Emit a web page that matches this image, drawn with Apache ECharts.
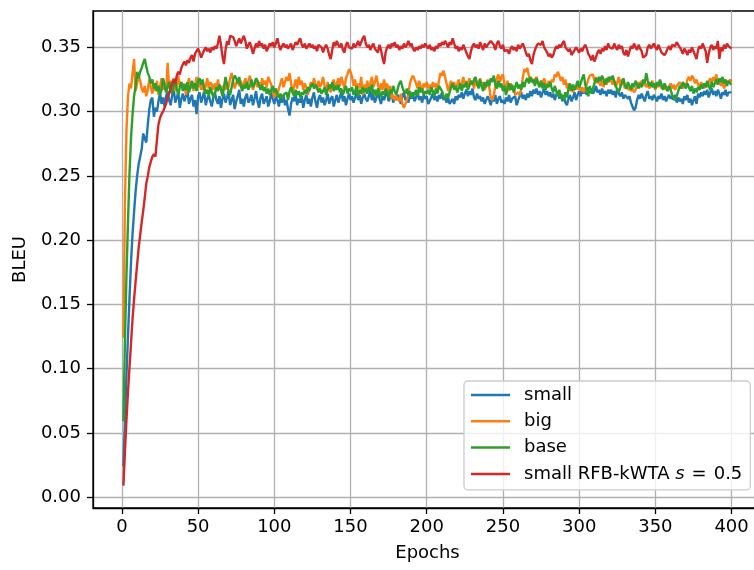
<!DOCTYPE html>
<html>
<head>
<meta charset="utf-8">
<script src="https://cdn.jsdelivr.net/npm/echarts@6/dist/echarts.min.js"></script>
<style>
  html, body { margin: 0; padding: 0; background: #fff; }
  #chart { width: 754px; height: 570px; }
</style>
</head>
<body>
<div id="chart"></div>
<script>
// tick labels
const xTicks = [0, 50, 100, 150, 200, 250, 300, 350, 400];
const yTicks = [0, 0.05, 0.1, 0.15, 0.2, 0.25, 0.3, 0.35];

const seriesNames = ['small', 'big', 'base', 'small RFB-kWTA s = 0.5'];

// BLEU per epoch (epochs 1..400)
const small = [
  0.024, 0.060, 0.095, 0.125, 0.155, 0.183, 0.205, 0.222, 0.238, 0.250, 0.259, 0.260, 0.271, 0.283, 0.279, 0.276, 0.290, 0.302, 0.309, 0.311,
  0.296, 0.303, 0.300, 0.308, 0.315, 0.306, 0.311, 0.304, 0.312, 0.316, 0.309, 0.305, 0.313, 0.318, 0.307, 0.311, 0.315, 0.303, 0.310, 0.314,
  0.308, 0.312, 0.317, 0.306, 0.310, 0.313, 0.304, 0.309, 0.298, 0.312, 0.315, 0.307, 0.311, 0.316, 0.305, 0.310, 0.313, 0.308, 0.304, 0.311,
  0.315, 0.309, 0.306, 0.312, 0.303, 0.310, 0.314, 0.307, 0.311, 0.316, 0.305, 0.309, 0.313, 0.302, 0.308, 0.312, 0.317, 0.306, 0.310, 0.304,
  0.311, 0.314, 0.307, 0.309, 0.313, 0.305, 0.310, 0.316, 0.308, 0.303, 0.311, 0.314, 0.306, 0.309, 0.312, 0.304, 0.308, 0.315, 0.310, 0.306,
  0.312, 0.309, 0.304, 0.311, 0.307, 0.313, 0.305, 0.309, 0.302, 0.297, 0.306, 0.311, 0.308, 0.314, 0.305, 0.310, 0.307, 0.312, 0.303, 0.309,
  0.313, 0.306, 0.310, 0.304, 0.311, 0.315, 0.308, 0.303, 0.310, 0.313, 0.307, 0.311, 0.305, 0.309, 0.314, 0.306, 0.310, 0.312, 0.304, 0.309,
  0.313, 0.307, 0.311, 0.316, 0.308, 0.312, 0.305, 0.310, 0.314, 0.309, 0.312, 0.307, 0.311, 0.315, 0.309, 0.313, 0.306, 0.311, 0.314, 0.310,
  0.308, 0.312, 0.316, 0.309, 0.313, 0.307, 0.311, 0.314, 0.310, 0.306, 0.312, 0.309, 0.313, 0.316, 0.308, 0.311, 0.314, 0.307, 0.312, 0.309,
  0.313, 0.310, 0.306, 0.312, 0.315, 0.309, 0.311, 0.307, 0.313, 0.310, 0.314, 0.308, 0.311, 0.316, 0.309, 0.312, 0.307, 0.313, 0.310, 0.312,
  0.306, 0.305, 0.311, 0.314, 0.309, 0.312, 0.308, 0.313, 0.310, 0.315, 0.309, 0.312, 0.307, 0.311, 0.306, 0.307, 0.310, 0.306, 0.312, 0.309,
  0.313, 0.311, 0.315, 0.310, 0.314, 0.317, 0.312, 0.316, 0.313, 0.318, 0.311, 0.309, 0.314, 0.310, 0.312, 0.308, 0.311, 0.306, 0.309, 0.312,
  0.309, 0.305, 0.311, 0.308, 0.313, 0.306, 0.310, 0.312, 0.307, 0.309, 0.306, 0.311, 0.308, 0.313, 0.307, 0.310, 0.309, 0.312, 0.305, 0.309,
  0.312, 0.315, 0.310, 0.313, 0.309, 0.314, 0.311, 0.316, 0.312, 0.317, 0.314, 0.318, 0.313, 0.316, 0.311, 0.315, 0.318, 0.313, 0.316, 0.312,
  0.315, 0.311, 0.314, 0.309, 0.313, 0.316, 0.310, 0.314, 0.308, 0.312, 0.307, 0.305, 0.310, 0.313, 0.308, 0.311, 0.315, 0.309, 0.313, 0.316,
  0.312, 0.318, 0.314, 0.317, 0.313, 0.319, 0.315, 0.318, 0.314, 0.316, 0.320, 0.315, 0.317, 0.313, 0.318, 0.314, 0.316, 0.312, 0.317, 0.314,
  0.317, 0.313, 0.316, 0.311, 0.318, 0.314, 0.312, 0.315, 0.310, 0.313, 0.313, 0.310, 0.312, 0.307, 0.304, 0.301, 0.303, 0.309, 0.313, 0.310,
  0.314, 0.311, 0.308, 0.313, 0.316, 0.310, 0.312, 0.309, 0.313, 0.311, 0.308, 0.312, 0.310, 0.314, 0.309, 0.312, 0.308, 0.311, 0.313, 0.310,
  0.312, 0.309, 0.313, 0.307, 0.311, 0.308, 0.310, 0.306, 0.312, 0.309, 0.313, 0.307, 0.310, 0.305, 0.309, 0.312, 0.306, 0.314, 0.311, 0.315,
  0.312, 0.316, 0.313, 0.317, 0.311, 0.315, 0.318, 0.313, 0.316, 0.312, 0.317, 0.314, 0.310, 0.315, 0.313, 0.317, 0.312, 0.315, 0.314, 0.315
];

const big = [
  0.124, 0.230, 0.285, 0.312, 0.322, 0.318, 0.330, 0.341, 0.316, 0.322, 0.328, 0.324, 0.318, 0.315, 0.320, 0.312, 0.317, 0.325, 0.319, 0.314,
  0.321, 0.316, 0.324, 0.313, 0.319, 0.326, 0.317, 0.322, 0.315, 0.338, 0.318, 0.324, 0.319, 0.326, 0.316, 0.321, 0.328, 0.319, 0.323, 0.317,
  0.322, 0.313, 0.320, 0.326, 0.318, 0.323, 0.316, 0.321, 0.327, 0.319, 0.324, 0.317, 0.322, 0.315, 0.320, 0.326, 0.318, 0.323, 0.321, 0.317,
  0.322, 0.316, 0.325, 0.318, 0.320, 0.314, 0.321, 0.317, 0.323, 0.319, 0.326, 0.330, 0.329, 0.318, 0.322, 0.325, 0.320, 0.324, 0.318, 0.322,
  0.326, 0.320, 0.324, 0.328, 0.322, 0.317, 0.321, 0.325, 0.319, 0.323, 0.318, 0.326, 0.321, 0.324, 0.319, 0.327, 0.328, 0.321, 0.315, 0.311,
  0.316, 0.313, 0.318, 0.322, 0.326, 0.319, 0.323, 0.327, 0.324, 0.330, 0.322, 0.314, 0.320, 0.325, 0.318, 0.327, 0.321, 0.324, 0.317, 0.322,
  0.319, 0.313, 0.318, 0.323, 0.320, 0.326, 0.321, 0.317, 0.324, 0.319, 0.322, 0.327, 0.320, 0.316, 0.323, 0.318, 0.315, 0.321, 0.325, 0.317,
  0.322, 0.326, 0.320, 0.327, 0.323, 0.318, 0.326, 0.329, 0.333, 0.331, 0.327, 0.320, 0.325, 0.316, 0.322, 0.318, 0.327, 0.313, 0.321, 0.317,
  0.324, 0.318, 0.322, 0.327, 0.319, 0.323, 0.328, 0.321, 0.316, 0.322, 0.317, 0.325, 0.318, 0.322, 0.315, 0.320, 0.310, 0.313, 0.309, 0.312,
  0.311, 0.308, 0.314, 0.306, 0.303, 0.302, 0.309, 0.315, 0.322, 0.326, 0.328, 0.327, 0.322, 0.318, 0.324, 0.320, 0.316, 0.322, 0.319, 0.323,
  0.318, 0.321, 0.317, 0.323, 0.319, 0.322, 0.316, 0.324, 0.330, 0.328, 0.332, 0.327, 0.322, 0.316, 0.320, 0.324, 0.319, 0.323, 0.317, 0.321,
  0.325, 0.318, 0.322, 0.327, 0.320, 0.324, 0.319, 0.326, 0.321, 0.323, 0.318, 0.325, 0.320, 0.322, 0.326, 0.319, 0.323, 0.317, 0.321, 0.325,
  0.319, 0.311, 0.309, 0.313, 0.320, 0.326, 0.329, 0.323, 0.327, 0.329, 0.321, 0.318, 0.324, 0.316, 0.322, 0.317, 0.320, 0.313, 0.312, 0.315,
  0.313, 0.318, 0.326, 0.333, 0.331, 0.334, 0.328, 0.324, 0.326, 0.322, 0.325, 0.327, 0.323, 0.320, 0.324, 0.321, 0.326, 0.322, 0.319, 0.324,
  0.320, 0.325, 0.323, 0.329, 0.327, 0.331, 0.328, 0.324, 0.327, 0.321, 0.325, 0.318, 0.322, 0.316, 0.319, 0.315, 0.318, 0.320, 0.317, 0.322,
  0.316, 0.319, 0.315, 0.318, 0.321, 0.325, 0.328, 0.327, 0.329, 0.324, 0.327, 0.322, 0.326, 0.320, 0.324, 0.319, 0.325, 0.321, 0.327, 0.323,
  0.326, 0.321, 0.324, 0.319, 0.323, 0.327, 0.320, 0.325, 0.322, 0.318, 0.321, 0.317, 0.319, 0.316, 0.318, 0.315, 0.317, 0.320, 0.323, 0.321,
  0.324, 0.320, 0.323, 0.319, 0.322, 0.318, 0.321, 0.324, 0.320, 0.317, 0.322, 0.319, 0.323, 0.318, 0.321, 0.317, 0.320, 0.316, 0.319, 0.322,
  0.318, 0.321, 0.317, 0.320, 0.319, 0.323, 0.320, 0.318, 0.322, 0.319, 0.325, 0.327, 0.324, 0.328, 0.326, 0.322, 0.325, 0.321, 0.319, 0.323,
  0.320, 0.318, 0.322, 0.319, 0.323, 0.326, 0.322, 0.327, 0.324, 0.329, 0.321, 0.325, 0.320, 0.323, 0.318, 0.321, 0.324, 0.322, 0.325, 0.323
];

const base = [
  0.059, 0.122, 0.172, 0.214, 0.252, 0.280, 0.298, 0.312, 0.320, 0.331, 0.326, 0.331, 0.334, 0.338, 0.341, 0.335, 0.330, 0.327, 0.322, 0.325,
  0.318, 0.322, 0.316, 0.320, 0.313, 0.317, 0.326, 0.321, 0.315, 0.319, 0.323, 0.317, 0.314, 0.320, 0.325, 0.318, 0.313, 0.319, 0.323, 0.316,
  0.321, 0.317, 0.323, 0.315, 0.319, 0.324, 0.318, 0.322, 0.316, 0.324, 0.326, 0.321, 0.325, 0.318, 0.314, 0.317, 0.312, 0.319, 0.315, 0.311,
  0.314, 0.319, 0.316, 0.321, 0.317, 0.312, 0.319, 0.327, 0.321, 0.316, 0.313, 0.319, 0.325, 0.328, 0.326, 0.322, 0.327, 0.320, 0.316, 0.321,
  0.318, 0.323, 0.317, 0.320, 0.325, 0.319, 0.322, 0.326, 0.324, 0.320, 0.317, 0.321, 0.316, 0.319, 0.314, 0.318, 0.313, 0.317, 0.320, 0.315,
  0.318, 0.313, 0.311, 0.314, 0.310, 0.313, 0.312, 0.315, 0.309, 0.316, 0.319, 0.315, 0.312, 0.317, 0.313, 0.316, 0.311, 0.315, 0.313, 0.317,
  0.314, 0.319, 0.316, 0.320, 0.322, 0.318, 0.321, 0.319, 0.315, 0.318, 0.314, 0.316, 0.319, 0.313, 0.317, 0.321, 0.318, 0.323, 0.316, 0.320,
  0.317, 0.321, 0.315, 0.318, 0.313, 0.317, 0.320, 0.314, 0.318, 0.316, 0.319, 0.313, 0.316, 0.320, 0.312, 0.317, 0.314, 0.319, 0.315, 0.318,
  0.314, 0.319, 0.316, 0.321, 0.313, 0.317, 0.312, 0.318, 0.315, 0.311, 0.316, 0.313, 0.318, 0.315, 0.311, 0.317, 0.314, 0.320, 0.316, 0.313,
  0.318, 0.322, 0.324, 0.319, 0.316, 0.314, 0.318, 0.313, 0.316, 0.311, 0.315, 0.313, 0.317, 0.312, 0.319, 0.315, 0.318, 0.313, 0.316, 0.314,
  0.317, 0.313, 0.319, 0.316, 0.312, 0.318, 0.314, 0.320, 0.321, 0.316, 0.312, 0.310, 0.314, 0.311, 0.315, 0.319, 0.322, 0.317, 0.320, 0.315,
  0.318, 0.322, 0.316, 0.321, 0.319, 0.323, 0.317, 0.320, 0.324, 0.321, 0.325, 0.327, 0.322, 0.318, 0.325, 0.320, 0.316, 0.323, 0.319, 0.324,
  0.320, 0.326, 0.323, 0.328, 0.321, 0.318, 0.324, 0.319, 0.322, 0.316, 0.320, 0.313, 0.318, 0.322, 0.317, 0.321, 0.315, 0.319, 0.323, 0.318,
  0.321, 0.317, 0.323, 0.319, 0.324, 0.326, 0.322, 0.327, 0.323, 0.325, 0.320, 0.326, 0.322, 0.319, 0.324, 0.318, 0.322, 0.317, 0.321, 0.319,
  0.323, 0.318, 0.315, 0.320, 0.316, 0.312, 0.317, 0.310, 0.313, 0.309, 0.315, 0.311, 0.318, 0.322, 0.316, 0.321, 0.317, 0.320, 0.324, 0.319,
  0.322, 0.326, 0.329, 0.321, 0.317, 0.312, 0.320, 0.314, 0.318, 0.322, 0.326, 0.323, 0.327, 0.324, 0.328, 0.325, 0.321, 0.326, 0.323, 0.327,
  0.325, 0.328, 0.324, 0.320, 0.317, 0.315, 0.319, 0.322, 0.326, 0.321, 0.318, 0.323, 0.320, 0.317, 0.322, 0.319, 0.324, 0.321, 0.318, 0.322,
  0.319, 0.325, 0.322, 0.330, 0.324, 0.320, 0.323, 0.319, 0.322, 0.318, 0.323, 0.320, 0.325, 0.321, 0.317, 0.322, 0.319, 0.316, 0.320, 0.317,
  0.313, 0.311, 0.309, 0.312, 0.316, 0.320, 0.318, 0.323, 0.321, 0.318, 0.322, 0.319, 0.316, 0.320, 0.314, 0.318, 0.315, 0.319, 0.317, 0.321,
  0.318, 0.322, 0.319, 0.324, 0.320, 0.317, 0.323, 0.319, 0.322, 0.325, 0.321, 0.326, 0.323, 0.327, 0.322, 0.325, 0.320, 0.324, 0.322, 0.321
];

const kwta = [
  0.009, 0.035, 0.060, 0.082, 0.101, 0.120, 0.139, 0.154, 0.168, 0.181, 0.194, 0.204, 0.214, 0.223, 0.233, 0.244, 0.250, 0.257, 0.261, 0.265,
  0.267, 0.265, 0.278, 0.290, 0.295, 0.298, 0.300, 0.303, 0.306, 0.311, 0.314, 0.318, 0.322, 0.325, 0.322, 0.328, 0.331, 0.329, 0.334, 0.337,
  0.339, 0.336, 0.340, 0.338, 0.342, 0.344, 0.339, 0.345, 0.347, 0.349, 0.346, 0.342, 0.345, 0.348, 0.350, 0.347, 0.349, 0.346, 0.350, 0.348,
  0.351, 0.349, 0.353, 0.359, 0.352, 0.343, 0.337, 0.348, 0.355, 0.352, 0.359, 0.360, 0.358, 0.355, 0.351, 0.354, 0.357, 0.353, 0.356, 0.359,
  0.355, 0.349, 0.352, 0.354, 0.350, 0.345, 0.349, 0.353, 0.350, 0.355, 0.351, 0.353, 0.349, 0.352, 0.347, 0.350, 0.353, 0.351, 0.354, 0.350,
  0.353, 0.357, 0.352, 0.348, 0.351, 0.353, 0.350, 0.352, 0.349, 0.350, 0.353, 0.348, 0.351, 0.354, 0.352, 0.355, 0.357, 0.352, 0.350, 0.353,
  0.349, 0.348, 0.353, 0.350, 0.352, 0.349, 0.351, 0.347, 0.352, 0.353, 0.350, 0.346, 0.350, 0.352, 0.349, 0.344, 0.341, 0.348, 0.354, 0.351,
  0.355, 0.352, 0.350, 0.353, 0.348, 0.346, 0.352, 0.354, 0.350, 0.351, 0.349, 0.353, 0.350, 0.352, 0.355, 0.351, 0.354, 0.357, 0.359, 0.353,
  0.350, 0.352, 0.348, 0.351, 0.353, 0.349, 0.350, 0.346, 0.352, 0.348, 0.342, 0.337, 0.346, 0.350, 0.352, 0.349, 0.353, 0.351, 0.354, 0.350,
  0.352, 0.348, 0.351, 0.349, 0.353, 0.350, 0.352, 0.355, 0.351, 0.353, 0.349, 0.347, 0.350, 0.348, 0.351, 0.349, 0.352, 0.350, 0.353, 0.351,
  0.349, 0.352, 0.348, 0.350, 0.347, 0.351, 0.349, 0.353, 0.351, 0.354, 0.352, 0.355, 0.353, 0.350, 0.354, 0.352, 0.357, 0.353, 0.349, 0.351,
  0.347, 0.350, 0.348, 0.352, 0.349, 0.346, 0.343, 0.341, 0.347, 0.351, 0.353, 0.350, 0.352, 0.349, 0.354, 0.351, 0.348, 0.353, 0.350, 0.352,
  0.351, 0.355, 0.354, 0.352, 0.348, 0.353, 0.355, 0.351, 0.349, 0.352, 0.347, 0.346, 0.348, 0.345, 0.349, 0.351, 0.348, 0.350, 0.347, 0.352,
  0.349, 0.351, 0.353, 0.350, 0.346, 0.343, 0.345, 0.340, 0.337, 0.344, 0.348, 0.351, 0.353, 0.354, 0.352, 0.355, 0.350, 0.348, 0.346, 0.343,
  0.345, 0.342, 0.344, 0.348, 0.351, 0.349, 0.352, 0.350, 0.353, 0.355, 0.350, 0.351, 0.347, 0.349, 0.344, 0.346, 0.345, 0.350, 0.348, 0.346,
  0.349, 0.347, 0.350, 0.352, 0.349, 0.345, 0.343, 0.340, 0.344, 0.339, 0.342, 0.346, 0.348, 0.345, 0.349, 0.347, 0.351, 0.348, 0.353, 0.350,
  0.351, 0.349, 0.353, 0.350, 0.348, 0.352, 0.349, 0.351, 0.346, 0.344, 0.348, 0.343, 0.347, 0.351, 0.349, 0.353, 0.350, 0.348, 0.352, 0.349,
  0.347, 0.342, 0.341, 0.344, 0.350, 0.352, 0.349, 0.351, 0.353, 0.350, 0.348, 0.352, 0.349, 0.346, 0.347, 0.344, 0.346, 0.349, 0.351, 0.348,
  0.352, 0.353, 0.351, 0.354, 0.352, 0.350, 0.348, 0.345, 0.349, 0.347, 0.344, 0.348, 0.346, 0.350, 0.347, 0.344, 0.341, 0.348, 0.351, 0.349,
  0.353, 0.350, 0.347, 0.338, 0.345, 0.350, 0.352, 0.348, 0.351, 0.349, 0.355, 0.341, 0.350, 0.347, 0.352, 0.349, 0.353, 0.351, 0.350, 0.349
];

const colors = ['#1f77b4', '#ff7f0e', '#2ca02c', '#d62728'];
const FONT = 'DejaVu Sans';
const FS = 18;

const chart = echarts.init(document.getElementById('chart'), null, { renderer: 'canvas' });

function toPoints(values) {
  return values.map((v, i) => [i + 1, v]);
}

const option = {
  animation: false,
  backgroundColor: '#fff',
  grid: {
    left: 93,
    top: 11,
    right: -8,
    bottom: 62,
    outerBoundsMode: 'none',
    show: true,
    borderColor: '#000',
    borderWidth: 1.3,
    backgroundColor: 'transparent'
  },
  xAxis: {
    type: 'value',
    min: -18.95,
    max: 419.95,
    name: 'Epochs',
    nameLocation: 'middle',
    nameGap: 36,
    nameTextStyle: { fontFamily: FONT, fontSize: FS, color: '#000' },
    axisLine: { show: true, onZero: false, lineStyle: { color: '#000', width: 1.3 } },
    axisTick: { show: true, length: 6, lineStyle: { color: '#000', width: 1.3 }, customValues: xTicks },
    axisLabel: { customValues: xTicks, margin: 10, fontFamily: FONT, fontSize: FS, color: '#000' },
    splitLine: { show: true, lineStyle: { color: '#b0b0b0', width: 1.3 } }
  },
  yAxis: {
    type: 'value',
    min: -0.0084,
    max: 0.3783,
    name: 'BLEU',
    nameLocation: 'middle',
    nameGap: 64,
    nameRotate: 90,
    nameTextStyle: { fontFamily: FONT, fontSize: FS, color: '#000' },
    axisLine: { show: true, onZero: false, lineStyle: { color: '#000', width: 1.3 } },
    axisTick: { show: true, length: 6, lineStyle: { color: '#000', width: 1.3 }, customValues: yTicks },
    axisLabel: {
      customValues: yTicks, margin: 12, fontFamily: FONT, fontSize: FS, color: '#000',
      formatter: v => v.toFixed(2)
    },
    splitLine: { show: true, lineStyle: { color: '#b0b0b0', width: 1.3 } }
  },
  legend: {
    orient: 'vertical',
    left: 464,
    top: 381,
    padding: [5, 8, 7, 7],
    itemGap: 8.3,
    itemWidth: 39,
    itemHeight: 2.5,
    icon: 'rect',
    backgroundColor: 'rgba(255,255,255,0.8)',
    borderColor: '#cccccc',
    borderWidth: 1.3,
    borderRadius: 4,
    data: seriesNames,
    formatter: name => name === seriesNames[3]
      ? '{n|small RFB-kWTA }{i|s}{e|=}{n|0.5}'
      : '{n|' + name + '}',
    textStyle: {
      padding: [0, 0, 0, 9],
      rich: {
        n: { fontFamily: FONT, fontSize: FS, lineHeight: 20, color: '#000' },
        i: { fontFamily: FONT, fontSize: FS, lineHeight: 20, fontStyle: 'italic', color: '#000' },
        e: { fontFamily: FONT, fontSize: FS, lineHeight: 20, color: '#000', padding: [0, 7, 0, 7] }
      }
    }
  },
  series: [small, big, base, kwta].map((vals, k) => ({
    name: seriesNames[k],
    type: 'line',
    data: toPoints(vals),
    symbol: 'none',
    showSymbol: false,
    color: colors[k],
    lineStyle: { color: colors[k], width: 2.4 },
    emphasis: { disabled: true }
  }))
};

chart.setOption(option);
</script>
</body>
</html>
